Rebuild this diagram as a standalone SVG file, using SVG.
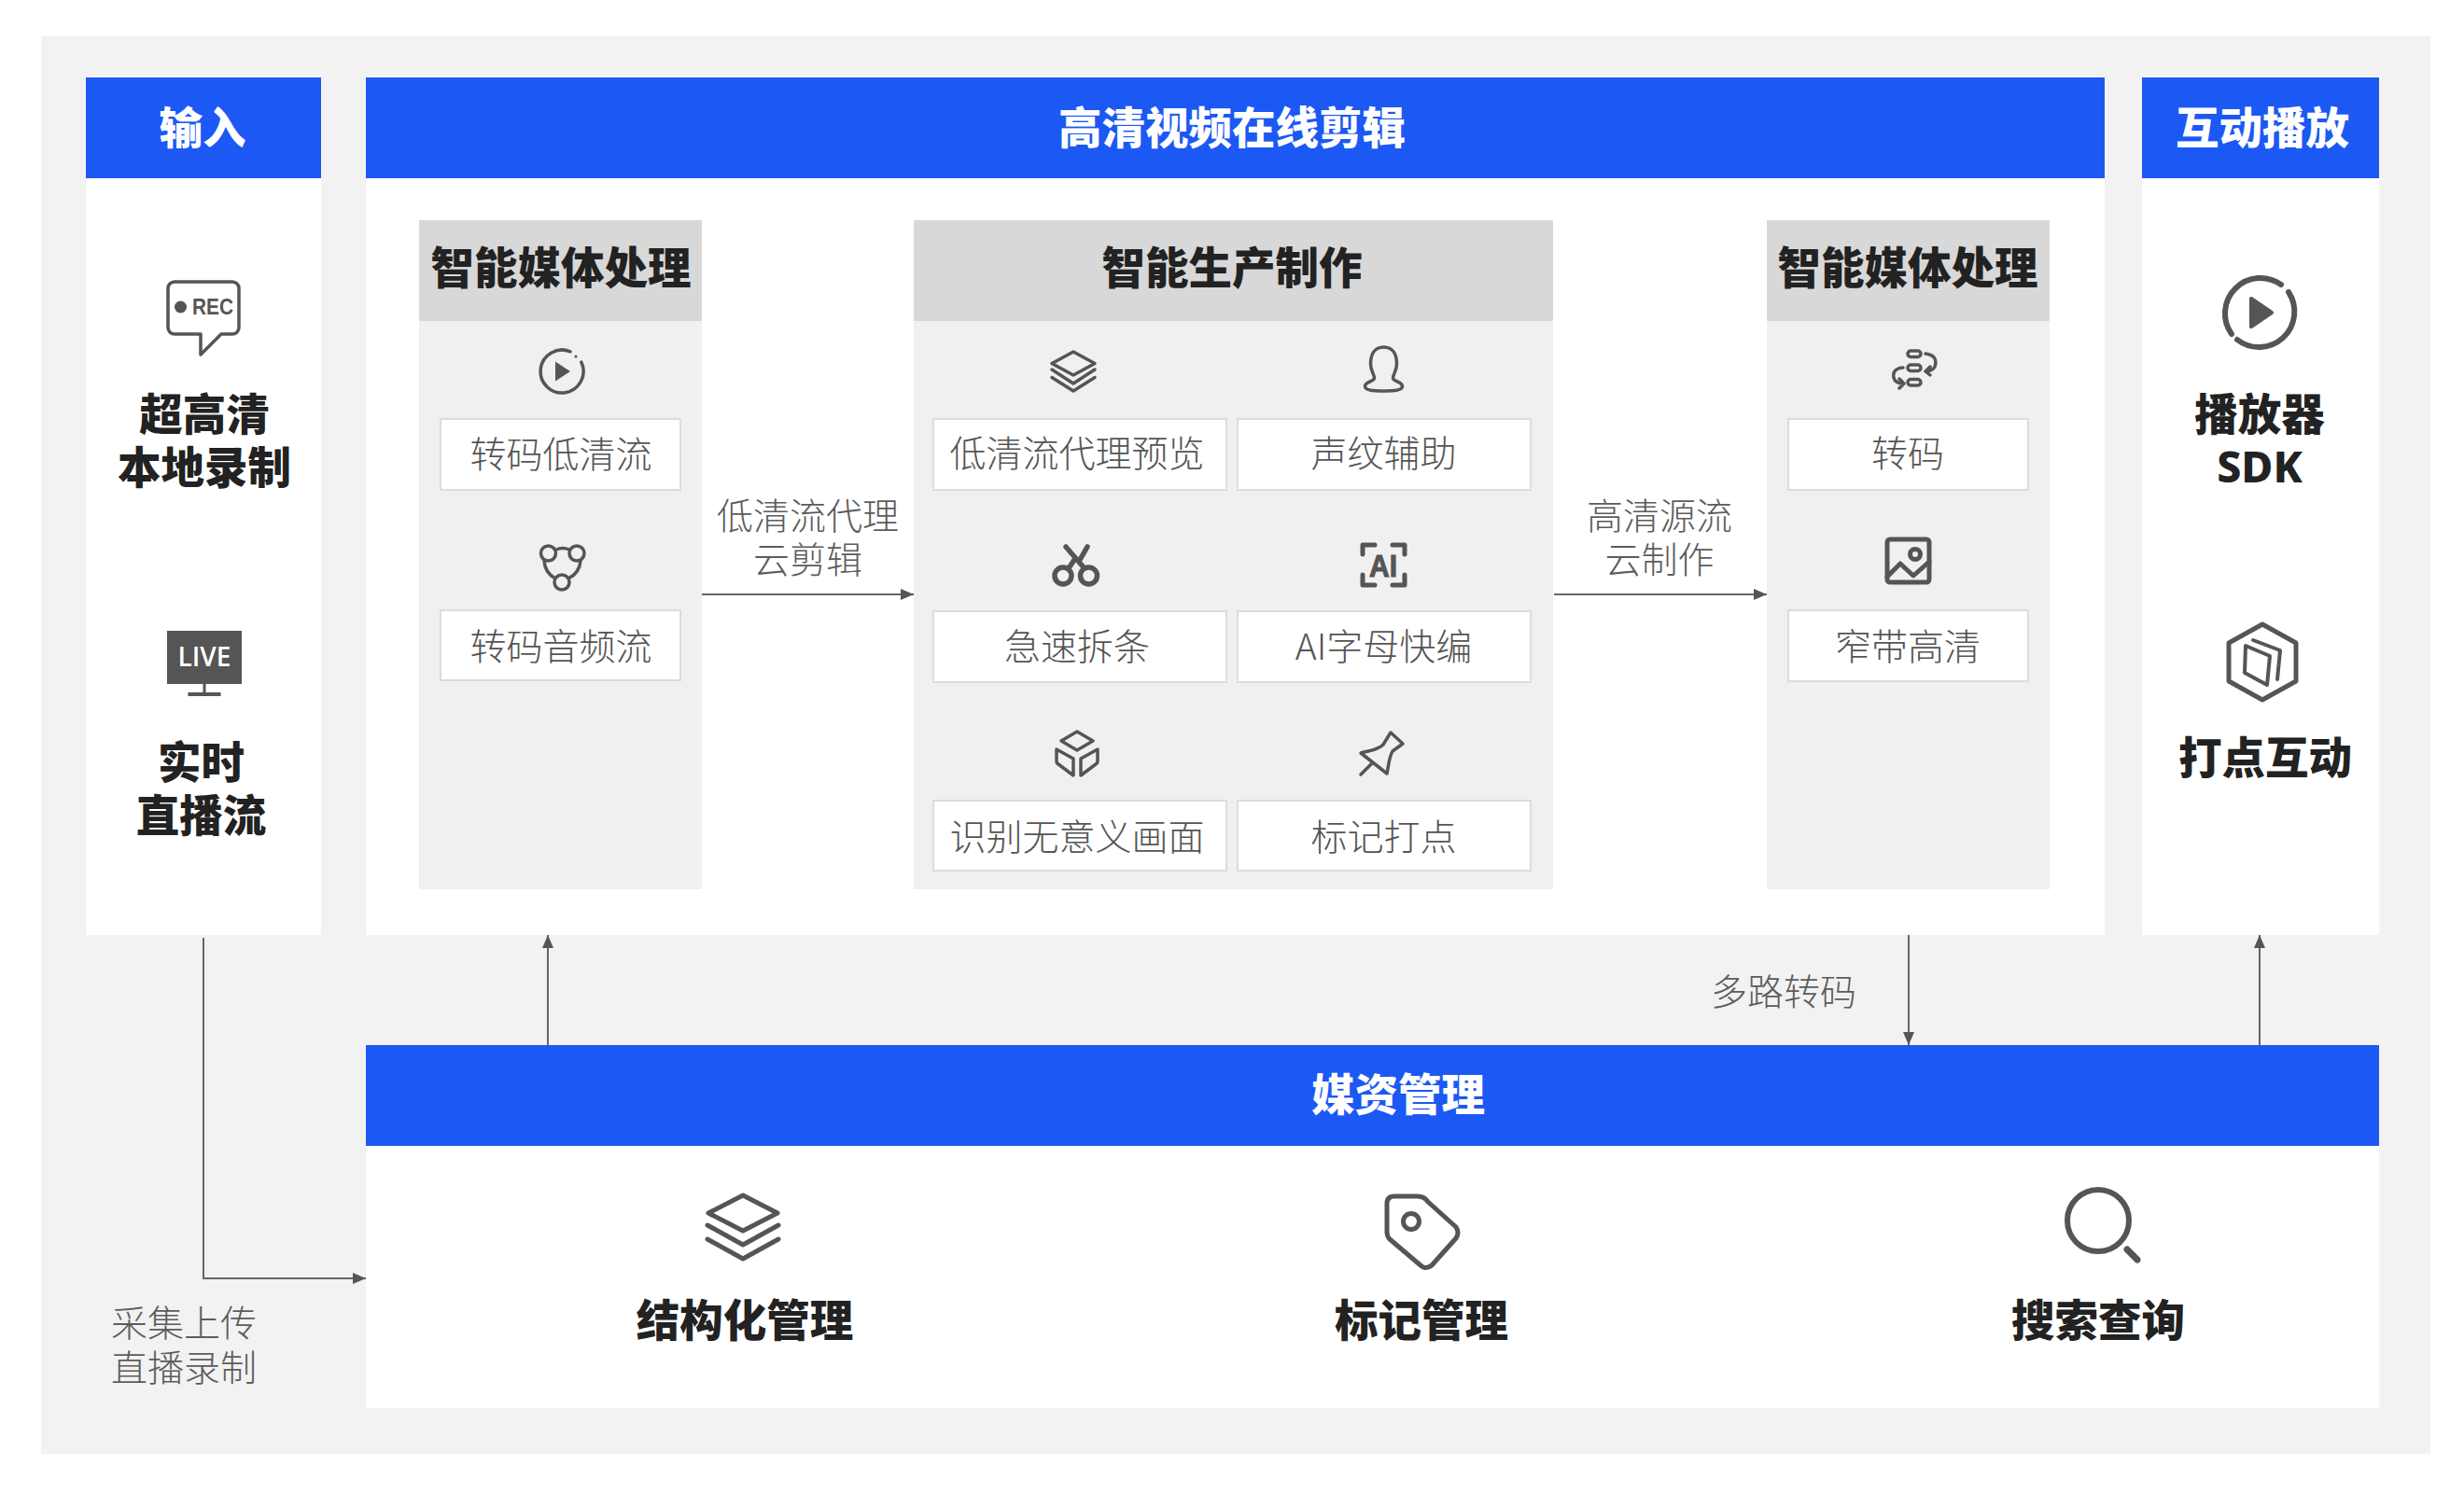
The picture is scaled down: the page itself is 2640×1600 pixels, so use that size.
<svg xmlns="http://www.w3.org/2000/svg" width="2640" height="1600" viewBox="0 0 2640 1600">
<style>
text{font-family:"Noto Sans CJK SC","Noto Sans",sans-serif;text-anchor:middle}
.hd{fill:#1c58f4}
.body{fill:#fff}
.pn{fill:#f0f0f0}
.pt{fill:#d8d8d8}
.bx{fill:#fff;stroke:#dcdcdc;stroke-width:2}
.ht{font-size:46.500px;font-weight:900;fill:#fff}
.tt{font-size:46.500px;font-weight:900;fill:#222}
.bt{font-size:39px;font-weight:300;fill:#555}
.lb{font-size:39px;font-weight:300;fill:#5c5c5c}
.ic{fill:none;stroke:#555;stroke-width:3.5;stroke-linecap:round;stroke-linejoin:round}
.ib{fill:none;stroke:#555;stroke-width:5;stroke-linecap:round;stroke-linejoin:round}
.if{fill:#555}
.cn{fill:none;stroke:#666;stroke-width:2}
</style>
<defs>
<marker id="ah" viewBox="0 0 14 12" refX="14" refY="6" markerWidth="14" markerHeight="12" markerUnits="userSpaceOnUse" orient="auto"><path d="M0 0L14 6L0 12Z" fill="#555"/></marker>
</defs>
<rect width="2640" height="1600" fill="#fff"/>
<rect x="44" y="39" width="2560" height="1519" fill="#f2f2f2"/>

<g id="input">
<rect class="body" x="92" y="83" width="252" height="919"/>
<rect class="hd" x="92" y="83" width="252" height="108"/>
<text class="ht" x="217" y="154">输入</text>
<path class="ic" d="M187 302H249a7 7 0 0 1 7 7V351a7 7 0 0 1-7 7H237L215 380V358H187a7 7 0 0 1-7-7V309a7 7 0 0 1 7-7Z"/>
<circle class="if" cx="193.500" cy="329" r="6.500"/>
<text x="228" y="337" textLength="44" lengthAdjust="spacingAndGlyphs" style="font-family:'Liberation Sans',sans-serif;font-size:23px;font-weight:700;fill:#555">REC</text>
<text class="tt" x="219" y="461">超高清</text>
<text class="tt" x="219" y="518">本地录制</text>
<rect class="if" x="179" y="676" width="80" height="57"/>
<path class="if" d="M217.500 733h3v9h16v4h-35v-4h16Z"/>
<text x="219" y="714" style="font-family:'Open Sans',sans-serif;font-size:28px;font-weight:600;fill:#fff">LIVE</text>
<text class="tt" x="215.500" y="834">实时</text>
<text class="tt" x="215.500" y="891">直播流</text>
</g>

<g id="editor">
<rect class="body" x="392" y="83" width="1863" height="919"/>
<rect class="hd" x="392" y="83" width="1863" height="108"/>
<text class="ht" x="1320" y="154">高清视频在线剪辑</text>
</g>

<g id="media-left">
<rect class="pn" x="449" y="236" width="303" height="717"/>
<rect class="pt" x="449" y="236" width="303" height="108"/>
<text class="tt" x="601" y="304">智能媒体处理</text>
<path class="ic" d="M611 376.800A23 23 0 1 0 622.800 388"/>
<circle class="if" cx="617" cy="382" r="1.500"/>
<path class="if" d="M595 387.500L611 398L595 408.500Z"/>
<rect class="bx" x="472" y="449" width="257" height="76"/>
<text class="bt" x="601" y="501">转码低清流</text>
<g class="ic"><circle cx="587.500" cy="593" r="8"/><circle cx="618" cy="593" r="8"/><circle cx="602" cy="624" r="8"/><path d="M596 589Q603 586 610 589M583 601Q584 614 595 620M622 601Q621 614 609 620"/></g>
<rect class="bx" x="472" y="654" width="257" height="75"/>
<text class="bt" x="601" y="707">转码音频流</text>
</g>

<g id="production">
<rect class="pn" x="979" y="236" width="685" height="717"/>
<rect class="pt" x="979" y="236" width="685" height="108"/>
<text class="tt" x="1320" y="304">智能生产制作</text>
<g class="ic"><path d="M1150 377L1173 389.500L1150 402L1127 389.500Z"/><path d="M1127 396L1150 411L1173 396M1127 404.500L1150 419L1173 404.500"/></g>
<path class="ic" d="M1482.500 372c-10 0-14 8-14 18c0 8 4 11 4 15c0 4-10 4-10 9c0 4 8 5 20 5s20-1 20-5c0-5-10-5-10-9c0-4 4-7 4-15c0-10-4-18-14-18Z"/>
<rect class="bx" x="1000" y="449" width="314" height="76"/>
<text class="bt" x="1154" y="500">低清流代理预览</text>
<rect class="bx" x="1326" y="449" width="314" height="76"/>
<text class="bt" x="1482.500" y="500">声纹辅助</text>
<g class="ib" style="stroke-width:5.500"><circle cx="1139" cy="617" r="9"/><circle cx="1166.500" cy="617" r="9"/><path d="M1142 586L1161 608M1165 586L1157 600M1145 609L1151 600"/></g>
<g class="ib"><path d="M1473 584H1460V594M1492 584H1505V594M1460 616V627H1473M1505 616V627H1492"/></g>
<text x="1482" y="618" textLength="30" lengthAdjust="spacingAndGlyphs" style="font-family:'Liberation Sans',sans-serif;font-size:33px;font-weight:700;fill:#555;stroke:#555;stroke-width:1">AI</text>
<rect class="bx" x="1000" y="655" width="314" height="76"/>
<text class="bt" x="1154" y="707">急速拆条</text>
<rect class="bx" x="1326" y="655" width="314" height="76"/>
<text class="bt" x="1482.500" y="707">AI字母快编</text>
<g class="ic"><path d="M1154 784L1171 794L1154 804L1137 794Z"/><path d="M1132 803L1150 813V831L1134 819Q1132 818 1132 815ZM1176 803L1158 813V831L1174 819Q1176 818 1176 815Z"/></g>
<path class="ic" d="M1490 785L1503 797L1492 805C1488 812 1488 820 1486 829L1458 807C1468 804 1476 804 1482 798ZM1470 818L1458 830"/>
<rect class="bx" x="1000" y="858" width="314" height="75"/>
<text class="bt" x="1154" y="911">识别无意义画面</text>
<rect class="bx" x="1326" y="858" width="314" height="75"/>
<text class="bt" x="1482.500" y="911">标记打点</text>
</g>

<g id="media-right">
<rect class="pn" x="1893" y="236" width="303" height="717"/>
<rect class="pt" x="1893" y="236" width="303" height="108"/>
<text class="tt" x="2044" y="304">智能媒体处理</text>
<g class="ic"><rect x="2044" y="376" width="14" height="6.500" rx="3.200"/><rect x="2044" y="391" width="14" height="6.500" rx="3.200"/><rect x="2044" y="406.500" width="14" height="6.500" rx="3.200"/><path d="M2063 379Q2077 381 2073 393Q2071 397 2064 398M2068 393L2063 398L2068 402M2039 394Q2027 395 2029 405Q2031 411 2039 411M2035 406L2040 411L2035 416"/></g>
<rect class="bx" x="1916" y="449" width="257" height="76"/>
<text class="bt" x="2044" y="500">转码</text>
<g class="ib"><path d="M2025 578H2064a3 3 0 0 1 3 3V621a3 3 0 0 1-3 3H2025a3 3 0 0 1-3-3V581a3 3 0 0 1 3-3Z"/><circle cx="2052" cy="594" r="5.500"/><path d="M2022 618L2036 604L2050 617L2067 602"/></g>
<rect class="bx" x="1916" y="654" width="257" height="76"/>
<text class="bt" x="2044" y="707">窄带高清</text>
</g>

<g id="playback">
<rect class="body" x="2295" y="83" width="254" height="919"/>
<rect class="hd" x="2295" y="83" width="254" height="108"/>
<text class="ht" x="2424" y="154">互动播放</text>
<path class="ib" d="M2444 305A38 38 0 0 0 2391 358M2397 364A38 38 0 0 0 2452 313" style="stroke-width:6"/>
<path class="if" stroke="#555" stroke-width="4" stroke-linejoin="round" d="M2412 320L2434 335L2412 350Z"/>
<text class="tt" x="2421" y="461">播放器</text>
<text x="2421" y="517" style="font-family:'Noto Sans',sans-serif;font-size:46.500px;font-weight:800;fill:#222">SDK</text>
<g class="ic" style="stroke-width:4"><path d="M2424 669L2460 689V730L2424 750L2388 730V689Z" style="stroke-width:5"/><path d="M2406 692L2432 703L2429 734L2405 721Z"/><path d="M2414 686L2443 697L2440 728"/></g>
<text class="tt" x="2427" y="829">打点互动</text>
</g>

<g id="asset">
<rect class="body" x="392" y="1120" width="2157" height="389"/>
<rect class="hd" x="392" y="1120" width="2157" height="108"/>
<text class="ht" x="1498" y="1190">媒资管理</text>
<g class="ib"><path d="M796 1281L833 1300L796 1319L759 1300Z"/><path d="M758 1313L796 1334L834 1313M758 1328L796 1349L834 1328"/></g>
<text class="tt" x="798" y="1432">结构化管理</text>
<g class="ib"><path d="M1494 1282H1519Q1526 1282 1530 1288L1560 1315Q1564 1321 1560 1327L1534 1356Q1528 1361 1522 1356L1489 1328Q1486 1325 1486 1320V1290Q1486 1282 1494 1282Z"/><circle cx="1512" cy="1309" r="8.500"/></g>
<text class="tt" x="1523" y="1432">标记管理</text>
<circle class="ib" cx="2248" cy="1308" r="33" style="stroke-width:6"/>
<path class="ib" d="M2279 1339L2290 1350" style="stroke-width:7"/>
<text class="tt" x="2248" y="1432">搜索查询</text>
</g>

<g id="connectors">
<path class="cn" marker-end="url(#ah)" d="M218 1005V1370H392"/>
<path class="cn" marker-end="url(#ah)" d="M587 1120V1002"/>
<path class="cn" marker-end="url(#ah)" d="M752 637H979"/>
<path class="cn" marker-end="url(#ah)" d="M1665 637H1893"/>
<path class="cn" marker-end="url(#ah)" d="M2045 1002V1120"/>
<path class="cn" marker-end="url(#ah)" d="M2421 1120V1002"/>
</g>
<g id="connector-labels">
<text class="lb" x="865.500" y="567">低清流代理</text>
<text class="lb" x="865.500" y="614">云剪辑</text>
<text class="lb" x="1778" y="567">高清源流</text>
<text class="lb" x="1778" y="614">云制作</text>
<text class="lb" x="1911" y="1077">多路转码</text>
<text class="lb" x="197" y="1432">采集上传</text>
<text class="lb" x="197" y="1480">直播录制</text>
</g>
</svg>
